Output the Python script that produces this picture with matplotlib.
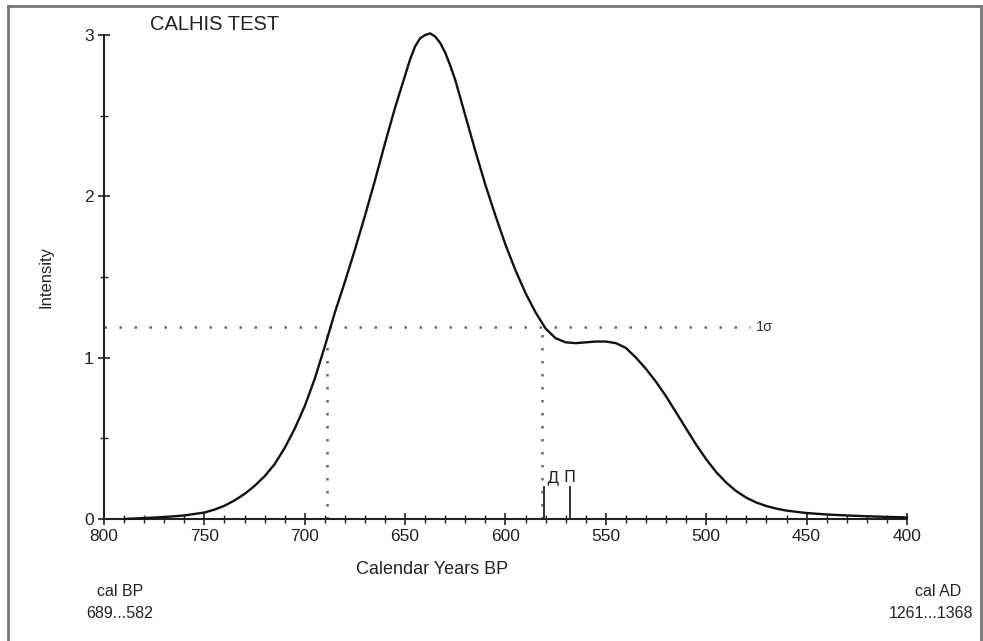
import matplotlib
matplotlib.use("Agg")
import matplotlib.pyplot as plt
from matplotlib.lines import Line2D
from matplotlib.ticker import MultipleLocator

plt.rcParams['font.family'] = ['Liberation Sans', 'DejaVu Sans']

# Calibrated probability curve (Calendar years BP vs intensity)
years = [790, 780, 770, 760, 750, 745, 740, 735, 730, 725, 720, 715, 710, 705,
         700, 695, 690, 685, 680, 675, 670, 665, 660, 655, 650, 647.5, 645,
         642.5, 640, 637.5, 635, 632.5, 630, 627.5, 625, 620, 615, 610, 605,
         600, 595, 590, 585, 580, 575, 570, 565, 560, 555, 550, 545, 540, 535,
         530, 525, 520, 515, 510, 505, 500, 495, 490, 485, 480, 475, 470, 465,
         460, 450, 440, 430, 420, 410, 400]
intensity = [0.0, 0.006, 0.012, 0.022, 0.04, 0.058, 0.082, 0.115, 0.155, 0.205,
             0.265, 0.34, 0.44, 0.56, 0.70, 0.87, 1.07, 1.28, 1.47, 1.67, 1.88,
             2.10, 2.33, 2.55, 2.75, 2.85, 2.93, 2.98, 3.00, 3.01, 2.99, 2.95,
             2.89, 2.81, 2.72, 2.50, 2.28, 2.07, 1.88, 1.70, 1.54, 1.40, 1.28,
             1.18, 1.12, 1.095, 1.09, 1.095, 1.10, 1.10, 1.09, 1.06, 1.00, 0.93,
             0.85, 0.76, 0.66, 0.56, 0.46, 0.37, 0.29, 0.225, 0.172, 0.132, 0.102,
             0.08, 0.064, 0.052, 0.037, 0.028, 0.022, 0.017, 0.013, 0.01]

sigma_level = 1.19
sigma_range = [689, 582]
markers_x = [581, 568]
markers_lbl = ["Д", "П"]
marker_height = 0.2

xticks = [800, 750, 700, 650, 600, 550, 500, 450, 400]
yticks = [0, 1, 2, 3]

fig = plt.figure(figsize=(9.83, 6.41), dpi=100)
ax = fig.add_axes([104/983, 1-519/641, (907-104)/983, (519-35)/641])
ax.set_xlim(800, 400)
ax.set_ylim(0, 3)

ax.plot(years, intensity, color='#111111', lw=1.7, clip_on=False, zorder=5,
        solid_joinstyle='round', solid_capstyle='round')

# 1-sigma lines
ax.plot([800, 478], [sigma_level, sigma_level], color='#666666', lw=1.8,
        linestyle=(0, (1, 5)), clip_on=False)
for xv in sigma_range:
    ax.plot([xv, xv], [0, sigma_level], color='#666666', lw=1.8,
            linestyle=(0, (1, 4.2)), clip_on=False)
ax.text(475.5, sigma_level, "1σ", fontsize=10.5, va='center', ha='left', color='#333333')

# markers
for xv, lb in zip(markers_x, markers_lbl):
    ax.plot([xv, xv], [0, marker_height], color='#222222', lw=1.3)
    ax.text(xv - 1.5 if lb == "Д" else xv, marker_height + 0.01, lb, fontsize=11.5,
            ha='left' if lb == "Д" else 'center', va='bottom',
            family=['DejaVu Sans'], color='#222222')

for s in ['top', 'right']:
    ax.spines[s].set_visible(False)
ax.spines['left'].set_linewidth(1.5)
ax.spines['bottom'].set_linewidth(1.5)
ax.spines['left'].set_color('#222222')
ax.spines['bottom'].set_color('#222222')

ax.set_xticks(xticks)
ax.set_xticklabels([str(t) for t in xticks])
ax.set_yticks(yticks)
ax.set_yticklabels([str(t) for t in yticks])
ax.xaxis.set_minor_locator(MultipleLocator(10))
ax.yaxis.set_minor_locator(MultipleLocator(0.5))
ax.tick_params(axis='both', which='major', direction='inout', length=9, width=1.2,
               labelsize=12.5, colors='#222222', pad=3)
ax.tick_params(axis='both', which='minor', direction='inout', length=6, width=1.0,
               colors='#222222')

ax.set_ylabel("Intensity", fontsize=12, labelpad=22, color='#222222')
ax.patch.set_alpha(0)

fig.text(432/983, 1-570/641, "Calendar Years BP", fontsize=13, ha='center', va='center', color='#222222')
fig.text(150/983, 1-24/641, "CALHIS TEST", fontsize=14.5, ha='left', va='center', color='#222222')
fig.text(120/983, 1-592/641, "cal BP", fontsize=11.5, ha='center', va='center', color='#222222')
fig.text(120/983, 1-614/641, "689...582", fontsize=11.5, ha='center', va='center', color='#222222')
fig.text(938/983, 1-592/641, "cal AD", fontsize=11.5, ha='center', va='center', color='#222222')
fig.text(931/983, 1-614/641, "1261...1368", fontsize=11.5, ha='center', va='center', color='#222222')

# outer frame
fc = '#777777'
fig.add_artist(Line2D([8/983, 8/983], [0, 1-6/641], color=fc, lw=2.0, transform=fig.transFigure))
fig.add_artist(Line2D([8/983, 981/983], [1-6/641, 1-6/641], color=fc, lw=2.0, transform=fig.transFigure))
fig.add_artist(Line2D([981/983, 981/983], [0, 1-6/641], color=fc, lw=2.0, transform=fig.transFigure))

fig.savefig("out.png", dpi=100)
